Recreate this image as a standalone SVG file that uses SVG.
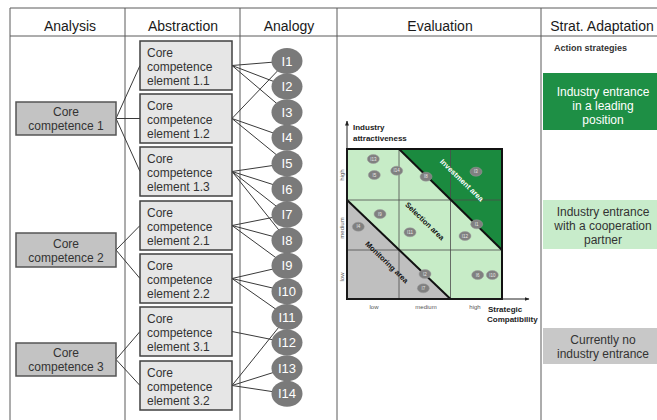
<svg xmlns="http://www.w3.org/2000/svg" width="657" height="420" viewBox="0 0 657 420">
<defs>
<style>
text{font-family:"Liberation Sans",Arial,sans-serif;}
.hdr{font-size:14px;fill:#1a1a1a;text-anchor:middle;}
.tbl{stroke:#5a5a5a;stroke-width:1;fill:none;}
.ana{fill:#c3c3c3;stroke:#555;stroke-width:1.5;}
.abs{fill:#e6e6e6;stroke:#404040;stroke-width:1.5;}
.t12{font-size:12px;fill:#333;}
.mid{text-anchor:middle;}
.ell{fill:#7a7a7a;}
.elt{font-size:13px;fill:#fff;text-anchor:middle;}
.con{stroke:#3a3a3a;stroke-width:1;fill:none;}
.bub{fill:#808080;stroke:#9a9a9a;stroke-width:0.5;}
.bt{font-size:4.5px;fill:#e8e8e8;text-anchor:middle;}
.tick{font-size:6px;fill:#555;text-anchor:middle;}
.axl{font-size:8px;font-weight:bold;fill:#222;}
</style>
<marker id="arr" viewBox="0 0 10 10" refX="9" refY="5" markerWidth="5" markerHeight="5" orient="auto">
<path d="M0,1 L10,5 L0,9 z" fill="#222"/>
</marker>
</defs>

<g id="table">
<line class="tbl" x1="10" y1="8" x2="657" y2="8"/>
<line class="tbl" x1="10" y1="36" x2="657" y2="36"/>
<line class="tbl" x1="10" y1="8" x2="10" y2="420"/>
<line class="tbl" x1="125" y1="8" x2="125" y2="420"/>
<line class="tbl" x1="240" y1="8" x2="240" y2="420"/>
<line class="tbl" x1="337" y1="8" x2="337" y2="420"/>
<line class="tbl" x1="541" y1="8" x2="541" y2="420"/>
<text class="hdr" x="70" y="31">Analysis</text>
<text class="hdr" x="183" y="31">Abstraction</text>
<text class="hdr" x="289" y="31">Analogy</text>
<text class="hdr" x="440" y="31">Evaluation</text>
<text class="hdr" x="602" y="31">Strat. Adaptation</text>
</g>

<g id="connectors">
<line class="con" x1="116" y1="118.5" x2="140" y2="65.5"/>
<line class="con" x1="116" y1="118.5" x2="140" y2="118.5"/>
<line class="con" x1="116" y1="118.5" x2="140" y2="171.5"/>
<line class="con" x1="116" y1="250" x2="140" y2="225.5"/>
<line class="con" x1="116" y1="250" x2="140" y2="278.5"/>
<line class="con" x1="116" y1="359.5" x2="140" y2="331.5"/>
<line class="con" x1="116" y1="359.5" x2="140" y2="385.5"/>
<!-- 1.1 -->
<line class="con" x1="232" y1="65.5" x2="287" y2="61"/>
<line class="con" x1="232" y1="65.5" x2="287" y2="86.6"/>
<line class="con" x1="232" y1="65.5" x2="287" y2="112.2"/>
<!-- 1.2 -->
<line class="con" x1="232" y1="118.5" x2="287" y2="61"/>
<line class="con" x1="232" y1="118.5" x2="287" y2="137.8"/>
<line class="con" x1="232" y1="118.5" x2="287" y2="163.4"/>
<!-- 1.3 -->
<line class="con" x1="232" y1="171.5" x2="287" y2="163.4"/>
<line class="con" x1="232" y1="171.5" x2="287" y2="189"/>
<line class="con" x1="232" y1="171.5" x2="287" y2="214.6"/>
<line class="con" x1="232" y1="171.5" x2="287" y2="240.2"/>
<!-- 2.1 -->
<line class="con" x1="232" y1="225.5" x2="287" y2="214.6"/>
<line class="con" x1="232" y1="225.5" x2="287" y2="240.2"/>
<line class="con" x1="232" y1="225.5" x2="287" y2="265.8"/>
<!-- 2.2 -->
<line class="con" x1="232" y1="278.5" x2="287" y2="265.8"/>
<line class="con" x1="232" y1="278.5" x2="287" y2="291.4"/>
<line class="con" x1="232" y1="278.5" x2="287" y2="317"/>
<!-- 3.1 -->
<line class="con" x1="232" y1="331.5" x2="287" y2="342.6"/>
<!-- 3.2 -->
<line class="con" x1="232" y1="385.5" x2="287" y2="317"/>
<line class="con" x1="232" y1="385.5" x2="287" y2="368.2"/>
<line class="con" x1="232" y1="385.5" x2="287" y2="393.8"/>
</g>

<g id="cc1"><rect class="ana" x="16" y="102" width="100" height="33"/><text class="t12 mid" x="66" y="116">Core</text><text class="t12 mid" x="66" y="130">competence 1</text></g>
<g id="cc2"><rect class="ana" x="16" y="233" width="100" height="34"/><text class="t12 mid" x="66" y="247.5">Core</text><text class="t12 mid" x="66" y="261.5">competence 2</text></g>
<g id="cc3"><rect class="ana" x="16" y="343" width="100" height="33"/><text class="t12 mid" x="66" y="357">Core</text><text class="t12 mid" x="66" y="371">competence 3</text></g>

<g id="e11"><rect class="abs" x="140" y="41" width="92" height="49"/><text class="t12" x="147" y="57">Core</text><text class="t12" x="147" y="71">competence</text><text class="t12" x="147" y="85">element 1.1</text></g>
<g id="e12"><rect class="abs" x="140" y="94" width="92" height="49"/><text class="t12" x="147" y="110">Core</text><text class="t12" x="147" y="124">competence</text><text class="t12" x="147" y="138">element 1.2</text></g>
<g id="e13"><rect class="abs" x="140" y="147" width="92" height="49"/><text class="t12" x="147" y="163">Core</text><text class="t12" x="147" y="177">competence</text><text class="t12" x="147" y="191">element 1.3</text></g>
<g id="e21"><rect class="abs" x="140" y="201" width="92" height="49"/><text class="t12" x="147" y="217">Core</text><text class="t12" x="147" y="231">competence</text><text class="t12" x="147" y="245">element 2.1</text></g>
<g id="e22"><rect class="abs" x="140" y="254" width="92" height="49"/><text class="t12" x="147" y="270">Core</text><text class="t12" x="147" y="284">competence</text><text class="t12" x="147" y="298">element 2.2</text></g>
<g id="e31"><rect class="abs" x="140" y="307" width="92" height="49"/><text class="t12" x="147" y="323">Core</text><text class="t12" x="147" y="337">competence</text><text class="t12" x="147" y="351">element 3.1</text></g>
<g id="e32"><rect class="abs" x="140" y="361" width="92" height="49"/><text class="t12" x="147" y="377">Core</text><text class="t12" x="147" y="391">competence</text><text class="t12" x="147" y="405">element 3.2</text></g>

<g id="i1"><ellipse class="ell" cx="287" cy="61" rx="15.5" ry="13"/><text class="elt" x="287" y="65.5">I1</text></g>
<g id="i2"><ellipse class="ell" cx="287" cy="86.6" rx="15.5" ry="13"/><text class="elt" x="287" y="91.1">I2</text></g>
<g id="i3"><ellipse class="ell" cx="287" cy="112.2" rx="15.5" ry="13"/><text class="elt" x="287" y="116.7">I3</text></g>
<g id="i4"><ellipse class="ell" cx="287" cy="137.8" rx="15.5" ry="13"/><text class="elt" x="287" y="142.3">I4</text></g>
<g id="i5"><ellipse class="ell" cx="287" cy="163.4" rx="15.5" ry="13"/><text class="elt" x="287" y="167.9">I5</text></g>
<g id="i6"><ellipse class="ell" cx="287" cy="189" rx="15.5" ry="13"/><text class="elt" x="287" y="193.5">I6</text></g>
<g id="i7"><ellipse class="ell" cx="287" cy="214.6" rx="15.5" ry="13"/><text class="elt" x="287" y="219.1">I7</text></g>
<g id="i8"><ellipse class="ell" cx="287" cy="240.2" rx="15.5" ry="13"/><text class="elt" x="287" y="244.7">I8</text></g>
<g id="i9"><ellipse class="ell" cx="287" cy="265.8" rx="15.5" ry="13"/><text class="elt" x="287" y="270.3">I9</text></g>
<g id="i10"><ellipse class="ell" cx="287" cy="291.4" rx="15.5" ry="13"/><text class="elt" x="287" y="295.9">I10</text></g>
<g id="i11"><ellipse class="ell" cx="287" cy="317" rx="15.5" ry="13"/><text class="elt" x="287" y="321.5">I11</text></g>
<g id="i12"><ellipse class="ell" cx="287" cy="342.6" rx="15.5" ry="13"/><text class="elt" x="287" y="347.1">I12</text></g>
<g id="i13"><ellipse class="ell" cx="287" cy="368.2" rx="15.5" ry="13"/><text class="elt" x="287" y="372.7">I13</text></g>
<g id="i14"><ellipse class="ell" cx="287" cy="393.8" rx="15.5" ry="13"/><text class="elt" x="287" y="398.3">I14</text></g>

<g id="matrix">
<rect x="347" y="149" width="155" height="150" fill="#c7ecc7"/>
<polygon points="399,149 502,149 502,250" fill="#1b8a3f"/>
<polygon points="347,200 347,299 450.5,299" fill="#bfbfbf"/>
<g stroke="#4d4d4d" stroke-width="0.8">
<line x1="399" y1="149" x2="399" y2="299"/>
<line x1="450.5" y1="149" x2="450.5" y2="299"/>
<line x1="347" y1="200" x2="502" y2="200"/>
<line x1="347" y1="250" x2="502" y2="250"/>
</g>
<rect x="347" y="149" width="155" height="150" fill="none" stroke="#111" stroke-width="2"/>
<line x1="399" y1="149" x2="502" y2="250" stroke="#111" stroke-width="2"/>
<line x1="347" y1="200" x2="450.5" y2="299" stroke="#111" stroke-width="2"/>
<line x1="347" y1="299" x2="347" y2="121" stroke="#222" stroke-width="1" marker-end="url(#arr)"/>
<line x1="347" y1="299" x2="529" y2="299" stroke="#222" stroke-width="1" marker-end="url(#arr)"/>
<text class="axl" x="353" y="130">Industry</text>
<text class="axl" x="353" y="141">attractiveness</text>
<text class="axl" x="488" y="312">Strategic</text>
<text class="axl" x="487" y="322">Compatibility</text>
<text class="tick" x="374" y="309">low</text>
<text class="tick" x="426" y="309">medium</text>
<text class="tick" x="475" y="309">high</text>
<text class="tick" transform="translate(344,175) rotate(-90)">high</text>
<text class="tick" transform="translate(344,228) rotate(-90)">medium</text>
<text class="tick" transform="translate(344,277) rotate(-90)">low</text>
<text transform="translate(460,182) rotate(44)" font-size="7.5" font-weight="bold" fill="#fff" text-anchor="middle">Investment area</text>
<text transform="translate(423,223) rotate(44)" font-size="7.5" font-weight="bold" fill="#111" text-anchor="middle">Selection area</text>
<text transform="translate(385,264) rotate(44)" font-size="7.5" font-weight="bold" fill="#111" text-anchor="middle">Monitoring area</text>
<g>
<ellipse class="bub" cx="373.3" cy="159" rx="6" ry="4.5"/><text class="bt" x="373.3" y="160.6">I13</text>
<ellipse class="bub" cx="374.3" cy="175" rx="6" ry="4.5"/><text class="bt" x="374.3" y="176.6">I5</text>
<ellipse class="bub" cx="396.7" cy="170.7" rx="6" ry="4.5"/><text class="bt" x="396.7" y="172.3">I14</text>
<ellipse class="bub" cx="426" cy="176.7" rx="6" ry="4.5"/><text class="bt" x="426" y="178.3">I8</text>
<ellipse class="bub" cx="476" cy="171.7" rx="6" ry="4.5"/><text class="bt" x="476" y="173.3">I3</text>
<ellipse class="bub" cx="380" cy="214" rx="6" ry="4.5"/><text class="bt" x="380" y="215.6">I9</text>
<ellipse class="bub" cx="358.3" cy="226.7" rx="6" ry="4.5"/><text class="bt" x="358.3" y="228.3">I4</text>
<ellipse class="bub" cx="410" cy="232.3" rx="6" ry="4.5"/><text class="bt" x="410" y="233.9">I11</text>
<ellipse class="bub" cx="476.7" cy="224.3" rx="6" ry="4.5"/><text class="bt" x="476.7" y="225.9">I1</text>
<ellipse class="bub" cx="465" cy="236" rx="6" ry="4.5"/><text class="bt" x="465" y="237.6">I12</text>
<ellipse class="bub" cx="425" cy="274" rx="6" ry="4.5"/><text class="bt" x="425" y="275.6">I2</text>
<ellipse class="bub" cx="423.3" cy="288.3" rx="6" ry="4.5"/><text class="bt" x="423.3" y="289.9">I7</text>
<ellipse class="bub" cx="477.7" cy="275" rx="6" ry="4.5"/><text class="bt" x="477.7" y="276.6">I6</text>
<ellipse class="bub" cx="492.3" cy="275" rx="6" ry="4.5"/><text class="bt" x="492.3" y="276.6">I10</text>
</g>
</g>

<g id="strategies">
<text x="554" y="51" font-size="9" font-weight="bold" fill="#333">Action strategies</text>
<g id="s1"><rect x="543" y="73" width="120" height="57" fill="#1e8f45"/>
<text class="t12 mid" x="603" y="96" fill="#fff" style="fill:#fff">Industry entrance</text>
<text class="t12 mid" x="603" y="110" style="fill:#fff">in a leading</text>
<text class="t12 mid" x="603" y="124" style="fill:#fff">position</text></g>
<g id="s2"><rect x="543" y="200" width="120" height="49" fill="#c8eccb"/>
<text class="t12 mid" x="603" y="216">Industry entrance</text>
<text class="t12 mid" x="603" y="230">with a cooperation</text>
<text class="t12 mid" x="603" y="244">partner</text></g>
<g id="s3"><rect x="543" y="328" width="120" height="36" fill="#c8c8c8"/>
<text class="t12 mid" x="603" y="344">Currently no</text>
<text class="t12 mid" x="603" y="358">industry entrance</text></g>
</g>
</svg>
